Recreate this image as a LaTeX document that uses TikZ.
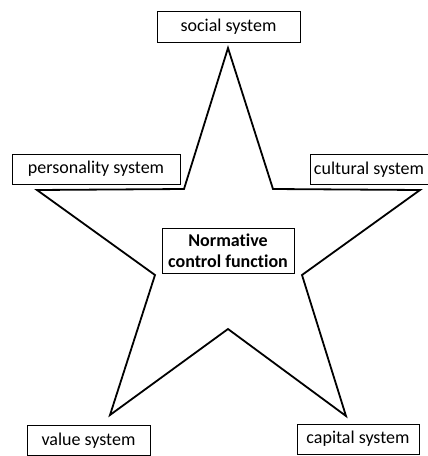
\documentclass[tikz,border=0pt]{standalone}
\usepackage{fontspec}
\setmainfont{Carlito}[Ligatures={NoCommon}]
\begin{document}
\begin{tikzpicture}[x=0.5pt,y=-0.5pt,
  lbl/.style={draw,line width=0.5pt,fill=white,inner sep=0pt,align=center,font=\fontsize{9}{10.5}\selectfont},
  starline/.style={draw,line width=0.9pt,line join=miter}]
\useasboundingbox (0,0) rectangle (428,456);
\draw[starline] (228,48) -- (273,189) -- (420,190) -- (302,275) -- (346,416)
  -- (228,329) -- (110,415) -- (155,275) -- (37,190) -- (184,189) -- cycle;
\node[lbl,minimum width=71.5pt,minimum height=15.5pt] (social) at (228.5,26.5) {social system};
\node[lbl,minimum width=84pt,minimum height=15pt] (personality) at (96,169) {personality system};
\node[lbl,minimum width=59pt,minimum height=15pt] (cultural) at (369,169.5) {cultural system};
\node[lbl,minimum width=66pt,minimum height=22.5pt,font=\fontsize{9}{10.5}\selectfont\bfseries] (norm) at (228,250.5) {Normative\\control function};
\node[lbl,minimum width=61.5pt,minimum height=15pt] (value) at (88.5,440.5) {value system};
\node[lbl,minimum width=61pt,minimum height=15pt] (capital) at (358,439) {capital system};
\end{tikzpicture}
\end{document}
